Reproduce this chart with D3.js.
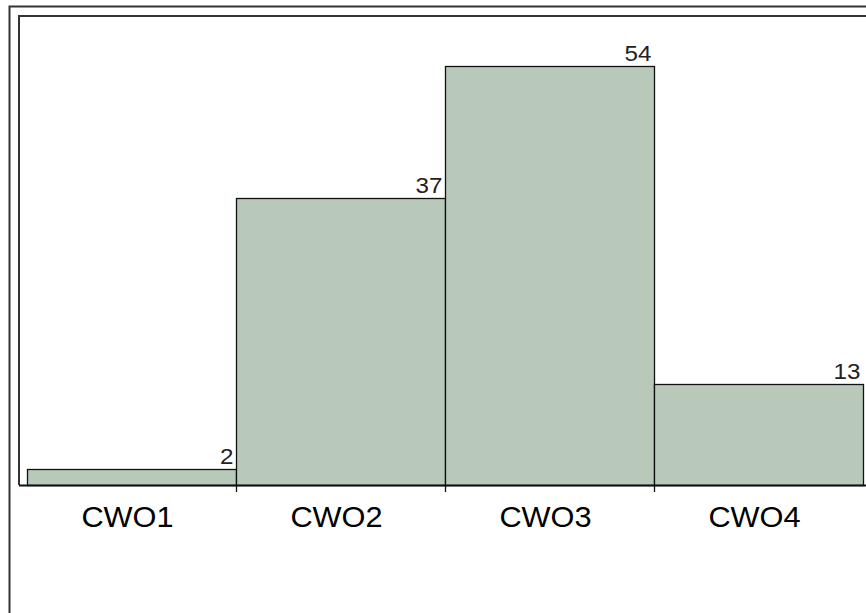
<!DOCTYPE html>
<html>
<head>
<meta charset="utf-8">
<title>CWO</title>
<script src="https://cdn.jsdelivr.net/npm/d3@7"></script>
<style>
  body { margin: 0; background: #fff; }
  text { font-family: Arial, "Liberation Sans", sans-serif; }
</style>
</head>
<body>
<svg width="866" height="613"></svg>
<script>
// data
var categories = ["CWO1", "CWO2", "CWO3", "CWO4"];
var counts = [2, 37, 54, 13];

var svg = d3.select("svg");
var W = 866, H = 613;
var plot = {left: 19, top: 16, base: 485, barLeft: 27, barRight: 863};

// outer frame, runs off the right and bottom edge
svg.append("rect")
  .attr("x", 9.5).attr("y", 6.5)
  .attr("width", W + 20).attr("height", H + 20)
  .attr("fill", "none").attr("stroke", "#333").attr("stroke-width", 2);

// inner frame: top + left
svg.append("path")
  .attr("d", "M" + (W + 10) + "," + plot.top + "H" + plot.left + "V" + plot.base)
  .attr("fill", "none").attr("stroke", "#333").attr("stroke-width", 2);

var x = d3.scaleBand()
  .domain(categories)
  .range([plot.barLeft, plot.barRight])
  .padding(0);

var y = d3.scaleLinear()
  .domain([0, d3.max(counts) * 1.12])
  .range([plot.base, plot.top]);

var g = svg.append("g");

// bars
g.selectAll("rect.bar")
  .data(counts)
  .enter()
  .append("rect")
  .attr("class", "bar")
  .attr("x", function(d, i) { return x(categories[i]) + 0.5; })
  .attr("y", function(d) { return Math.round(y(d)) + 0.5; })
  .attr("width", x.bandwidth())
  .attr("height", function(d) { return plot.base - Math.round(y(d)); })
  .attr("fill", "#b9c9b9")
  .attr("stroke", "#111")
  .attr("stroke-width", 1.3);

// value labels, right aligned at the bar's right edge (slightly wide glyphs)
g.selectAll("text.val")
  .data(counts)
  .enter()
  .append("text")
  .attr("class", "val")
  .attr("transform", function(d, i) {
    return "translate(" + (x(categories[i]) + x.bandwidth() - 2.5) + "," + (Math.round(y(d)) - 5.5) + ") scale(1.1,1)";
  })
  .attr("text-anchor", "end")
  .attr("font-size", 22)
  .attr("fill", "#222")
  .text(function(d) { return d; });

// baseline axis
svg.append("line")
  .attr("x1", plot.left).attr("x2", W + 10)
  .attr("y1", plot.base + 0.5).attr("y2", plot.base + 0.5)
  .attr("stroke", "#111").attr("stroke-width", 2);

// ticks between categories
svg.selectAll("line.tick")
  .data(categories.slice(1))
  .enter()
  .append("line")
  .attr("class", "tick")
  .attr("x1", function(d) { return x(d) + 0.5; })
  .attr("x2", function(d) { return x(d) + 0.5; })
  .attr("y1", plot.base).attr("y2", plot.base + 7)
  .attr("stroke", "#111").attr("stroke-width", 1.3);

// category labels
svg.selectAll("text.cat")
  .data(categories)
  .enter()
  .append("text")
  .attr("class", "cat")
  .attr("transform", function(d) {
    return "translate(" + (x(d) + x.bandwidth() / 2 - 4) + ",527) scale(1.06,1)";
  })
  .attr("text-anchor", "middle")
  .attr("font-size", 29)
  .attr("fill", "#000")
  .text(function(d) { return d; });
</script>
</body>
</html>
